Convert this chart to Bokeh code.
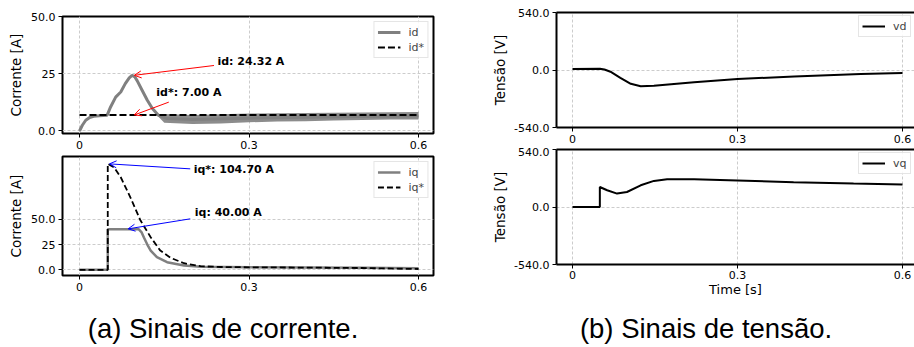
from bokeh.plotting import figure
from bokeh.layouts import row, column
from bokeh.models import FixedTicker, Range1d, Label, Arrow, OpenHead, LinearAxis
from bokeh.embed import file_html
from bokeh.resources import INLINE

FONT = "DejaVu Sans"

# ---------------- data ----------------
x_ticks = [0, 0.3, 0.6]
x_tick_labels = ["0", "0.3", "0.6"]

t_id = [0, 0.005, 0.011, 0.018, 0.025, 0.035, 0.049, 0.055, 0.064, 0.073, 0.081, 0.088,
        0.093, 0.098, 0.102, 0.111, 0.12, 0.129, 0.14, 0.155, 0.2, 0.3, 0.4, 0.5, 0.6]
id_vals = [0, 2.5, 4.7, 5.9, 6.4, 6.7, 6.9, 10.5, 14.8, 17.0, 20.7, 23.2,
           24.32, 23.6, 22.0, 17.7, 13.4, 9.8, 6.8, 5.4, 5.0, 5.6, 6.0, 6.3, 6.6]
# ripple envelope of id (steady state)
t_id_band = [0.138, 0.15, 0.2, 0.25, 0.3, 0.35, 0.4, 0.45, 0.5, 0.55, 0.6]
id_band_low = [6.6, 3.6, 3.0, 3.3, 3.8, 4.1, 4.3, 4.6, 4.8, 5.0, 5.0]
id_band_high = [7.4, 7.4, 7.0, 7.3, 7.6, 7.7, 7.8, 8.0, 8.1, 8.2, 8.3]
t_idref = [0, 0.6]
idref_vals = [7.0, 7.0]

t_iq = [0, 0.05, 0.05, 0.105, 0.11, 0.114, 0.12, 0.126, 0.137, 0.155, 0.185, 0.215, 0.3, 0.4, 0.5, 0.6]
iq_vals = [0, 0, 40, 40, 37, 32, 25, 19, 12.5, 7.5, 4.2, 3.0, 2.6, 2.3, 2.0, 1.5]
t_iqref = [0, 0.05, 0.05, 0.061, 0.073, 0.09, 0.108, 0.126, 0.143, 0.161, 0.185, 0.214, 0.25, 0.3, 0.4, 0.5, 0.6]
iqref_vals = [0, 0, 104.7, 101.4, 91.5, 71.7, 48.7, 32.2, 19.0, 11.9, 6.5, 3.6, 2.8, 2.5, 2.2, 1.8, 0.8]

t_vd = [0, 0.05, 0.058, 0.069, 0.087, 0.106, 0.124, 0.148, 0.221, 0.3, 0.403, 0.524, 0.6]
vd_vals = [9, 12, 5, -16, -73, -130, -152, -149, -114, -85, -60, -38, -28]

t_vq = [0, 0.0497, 0.0497, 0.063, 0.081, 0.099, 0.124, 0.148, 0.172, 0.221, 0.3, 0.402, 0.511, 0.6]
vq_vals = [0, 0, 188, 157, 126, 141, 204, 245, 261, 261, 249, 233, 220, 211]

i_ticks = [0, 25, 50]
i_tick_labels = ["0.0", "25", "50.0"]
v_ticks = [-540, 0, 540]
v_tick_labels = ["-540.0", "0.0", "540.0"]

# annotations: (text, text_x, text_y, tail_x, tail_y, head_x, head_y)
ann_d = [("id: 24.32 A", 0.244, 30.4, 0.238, 28.6, 0.097, 24.32),
         ("id*: 7.00 A", 0.136, 16.9, 0.158, 12.6, 0.097, 7.0)]
ann_q = [("iq*: 104.70 A", 0.202, 99.0, 0.196, 99.8, 0.053, 104.7),
         ("iq: 40.00 A", 0.204, 56.6, 0.196, 50.4, 0.086, 40.5)]

caption_a = "(a) Sinais de corrente."
caption_b = "(b) Sinais de tensão."

# ---------------- helpers ----------------
GRID = "#cccccc"


def make_fig(w, h, xr, yr, bl, br, bt, bb):
    p = figure(width=w, height=h, x_range=Range1d(*xr), y_range=Range1d(*yr),
               output_backend="svg", toolbar_location=None, tools="",
               min_border_left=bl, min_border_right=br, min_border_top=bt, min_border_bottom=bb)
    p.background_fill_color = "white"
    p.border_fill_color = "white"
    for ax in list(p.xaxis) + list(p.yaxis):
        ax.major_tick_out = 4
        ax.major_tick_in = 0
        ax.minor_tick_out = 0
        ax.minor_tick_in = 0
        ax.major_tick_line_color = "black"
        ax.major_tick_line_width = 1
        ax.major_label_text_font = FONT
        ax.major_label_text_font_size = "11px"
        ax.major_label_text_color = "black"
        ax.major_label_standoff = 3
        ax.axis_label_text_font = FONT
        ax.axis_label_text_font_size = "13.5px"
        ax.axis_label_text_font_style = "normal"
        ax.axis_label_text_color = "black"
    p.xaxis.ticker = FixedTicker(ticks=x_ticks)
    p.xaxis.major_label_overrides = {k: v for k, v in zip(x_ticks, x_tick_labels)}
    p.grid.grid_line_color = GRID
    p.grid.grid_line_dash = "3 2"
    p.grid.grid_line_width = 1
    return p


def style_legend(p):
    lg = p.legend[0]
    lg.location = "top_right"
    lg.margin = 5
    lg.padding = 3
    lg.spacing = 1
    lg.glyph_width = 23
    lg.glyph_height = 14
    lg.label_height = 14
    lg.label_width = 14
    lg.label_standoff = 8
    lg.label_text_font = FONT
    lg.label_text_font_size = "11px"
    lg.border_line_color = "#cccccc"
    lg.border_line_width = 1
    lg.background_fill_alpha = 0.85


def left_style(p):
    p.outline_line_color = "black"
    p.outline_line_width = 2
    for ax in list(p.xaxis) + list(p.yaxis):
        ax.axis_line_color = None


def add_ann(p, anns, color):
    for txt, tx, ty, x0, y0, x1, y1 in anns:
        p.add_layout(Arrow(end=OpenHead(size=7, line_color=color, line_width=1),
                           x_start=x0, y_start=y0, x_end=x1, y_end=y1,
                           line_color=color, line_width=1))
        p.add_layout(Label(x=tx, y=ty, text=txt, text_font=FONT, text_font_size="11px",
                           text_font_style="bold", text_baseline="middle", text_align="left",
                           text_color="black"))


XR_L = (-0.0301, 0.6265)

# ---------------- top-left: id ----------------
p1 = make_fig(478, 153, XR_L, (-1.1, 50), 62, 45, 16, 20)
left_style(p1)
p1.yaxis.ticker = FixedTicker(ticks=i_ticks)
p1.yaxis.major_label_overrides = {k: v for k, v in zip(i_ticks, i_tick_labels)}
p1.yaxis.axis_label = "Corrente [A]"
p1.yaxis.axis_label_standoff = 4
p1.varea(x=t_id_band, y1=id_band_low, y2=id_band_high, fill_color="gray", fill_alpha=0.9)
p1.line(t_id, id_vals, line_color="gray", line_width=3, legend_label="id")
p1.line(t_idref, idref_vals, line_color="black", line_width=2, line_dash="7 3", legend_label="id*")
style_legend(p1)
add_ann(p1, ann_d, "red")

# ---------------- bottom-left: iq ----------------
p2 = make_fig(478, 142, XR_L, (-5.6, 112), 62, 45, 3, 20)
left_style(p2)
p2.yaxis.ticker = FixedTicker(ticks=i_ticks)
p2.yaxis.major_label_overrides = {k: v for k, v in zip(i_ticks, i_tick_labels)}
p2.yaxis.axis_label = "Corrente [A]"
p2.yaxis.axis_label_standoff = 4
p2.line(t_iq, iq_vals, line_color="gray", line_width=2.5, legend_label="iq")
p2.line(t_iqref, iqref_vals, line_color="black", line_width=1.8, line_dash="6 3", legend_label="iq*")
style_legend(p2)
add_ann(p2, ann_q, "blue")

# ---------------- right plots ----------------
XR_R = (-0.0291, 0.6218)


def right_style(p):
    p.outline_line_color = None
    for ax in list(p.xaxis) + list(p.yaxis):
        ax.axis_line_color = "black"
        ax.axis_line_width = 2
    p.yaxis.ticker = FixedTicker(ticks=v_ticks)
    p.yaxis.major_label_overrides = {k: v for k, v in zip(v_ticks, v_tick_labels)}
    p.yaxis.axis_label = "Tensão [V]"
    p.yaxis.axis_label_standoff = 3
    top = LinearAxis(ticker=FixedTicker(ticks=[]), axis_line_color="black", axis_line_width=2,
                     major_tick_out=0, major_tick_in=0, minor_tick_out=0, minor_tick_in=0,
                     major_label_standoff=0)
    p.add_layout(top, "above")


p3 = make_fig(436, 147, XR_R, (-540, 540), 78, 0, 12, 20)
right_style(p3)
p3.line(t_vd, vd_vals, line_color="black", line_width=2, legend_label="vd")
style_legend(p3)
p3.legend[0].margin = 3

p4 = make_fig(436, 153, XR_R, (-540, 540), 78, 0, 2, 36)
p4.xaxis.axis_label = "Time [s]"
p4.xaxis.axis_label_standoff = 0
p4.xaxis.axis_label_text_font_size = "13px"
p4.xaxis.major_label_standoff = 2
right_style(p4)
p4.line(t_vq, vq_vals, line_color="black", line_width=2, legend_label="vq")
style_legend(p4)
p4.legend[0].margin = 3


def caption_fig(w, h, fx0, fx1, cx, txt):
    # the caption's frame is aligned with the frames above it in the column,
    # so its x range is given in page pixels of that frame
    c = figure(width=w, height=h, x_range=Range1d(fx0, fx1), y_range=Range1d(0, h),
               output_backend="svg", toolbar_location=None, tools="", min_border=0,
               x_axis_type=None, y_axis_type=None)
    c.grid.visible = False
    c.outline_line_color = None
    c.add_layout(Label(x=cx, y=19, text=txt, text_align="center", text_baseline="middle",
                       text_font="Liberation Sans", text_font_size="27.5px", text_color="black"))
    return c


cap1 = caption_fig(478, 52, 62, 433, 222.5, caption_a)
cap2 = caption_fig(436, 47, 556, 914, 705.5, caption_b)

layout = row(column(p1, p2, cap1), column(p3, p4, cap2))
open("out.html", "w").write(file_html(layout, INLINE))
